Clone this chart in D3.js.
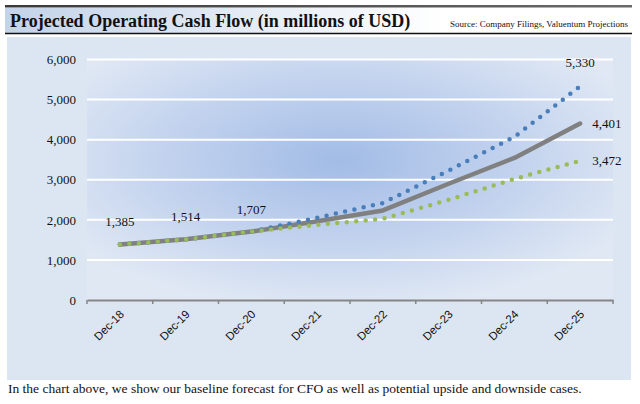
<!DOCTYPE html>
<html>
<head>
<meta charset="utf-8">
<script src="https://cdn.jsdelivr.net/npm/d3@7"></script>
<style>
  body { margin: 0; background: #fff; }
  svg { display: block; }
</style>
</head>
<body>
<script>
// data
var categories = ["Dec-18", "Dec-19", "Dec-20", "Dec-21", "Dec-22", "Dec-23", "Dec-24", "Dec-25"];
var baseCase = [1385, 1514, 1707, 1965, 2235, 2900, 3545, 4401];
var upsideCase = [1385, 1514, 1707, 2050, 2420, 3230, 4070, 5330];
var downsideCase = [1385, 1514, 1707, 1875, 2025, 2500, 3020, 3472];
var yTicks = [0, 1000, 2000, 3000, 4000, 5000, 6000];

var svg = d3.select("body")
            .append("svg")
            .attr("width", 640)
            .attr("height", 404);

var defs = svg.append("defs");

// title band gradient
var tg = defs.append("linearGradient").attr("id", "titleGrad");
tg.append("stop").attr("offset", "0%").attr("stop-color", "#c3d3e9");
tg.append("stop").attr("offset", "70%").attr("stop-color", "#ffffff");

var lg = defs.append("linearGradient").attr("id", "topLine");
lg.append("stop").attr("offset", "0%").attr("stop-color", "#3a3a3a");
lg.append("stop").attr("offset", "100%").attr("stop-color", "#6a6a6a");

// plot area gradient
var rg = defs.append("radialGradient")
             .attr("id", "plotGrad")
             .attr("cx", "48%").attr("cy", "42%").attr("r", "62%");
rg.append("stop").attr("offset", "0%").attr("stop-color", "#a2bce6");
rg.append("stop").attr("offset", "55%").attr("stop-color", "#c3d3ee");
rg.append("stop").attr("offset", "100%").attr("stop-color", "#e0e8f4");

// header
svg.append("rect").attr("x", 5).attr("y", 8).attr("width", 627).attr("height", 25)
   .attr("fill", "url(#titleGrad)");
svg.append("rect").attr("x", 5).attr("y", 5).attr("width", 627).attr("height", 2.5)
   .attr("fill", "url(#topLine)");
svg.append("line").attr("x1", 5).attr("x2", 632).attr("y1", 33.5).attr("y2", 33.5)
   .attr("stroke", "#111").attr("stroke-width", 1.5);

svg.append("text")
   .attr("x", 10).attr("y", 27)
   .style("font-family", "'Liberation Serif', 'Times New Roman', serif")
   .style("font-weight", "bold")
   .style("font-size", "18px")
   .attr("fill", "#111")
   .text("Projected Operating Cash Flow (in millions of USD)");

svg.append("text")
   .attr("x", 628).attr("y", 27)
   .attr("text-anchor", "end")
   .style("font-family", "'Liberation Serif', 'Times New Roman', serif")
   .style("font-size", "9px")
   .attr("fill", "#111")
   .text("Source: Company Filings, Valuentum Projections");

// chart panel
svg.append("rect").attr("x", 7).attr("y", 37).attr("width", 624).attr("height", 343)
   .attr("fill", "#dce6f2");

var x = d3.scaleBand().domain(categories).range([87, 613]).padding(0);
var y = d3.scaleLinear().domain([0, 6000]).range([300, 59.5]);

svg.append("rect")
   .attr("x", x.range()[0]).attr("y", y(6000))
   .attr("width", x.range()[1] - x.range()[0])
   .attr("height", y(0) - y(6000))
   .attr("fill", "url(#plotGrad)");

// gridlines
svg.append("g").selectAll("line")
   .data(yTicks.filter(function(d){ return d > 0; }))
   .enter().append("line")
   .attr("x1", x.range()[0]).attr("x2", x.range()[1])
   .attr("y1", function(d){ return y(d); })
   .attr("y2", function(d){ return y(d); })
   .attr("stroke", "#ffffff")
   .attr("stroke-width", 2);

// y axis labels
var yAxis = d3.axisLeft(y).tickValues(yTicks).tickSize(0).tickPadding(0)
              .tickFormat(d3.format(","));
var yg = svg.append("g").attr("transform", "translate(76,0)").call(yAxis);
yg.select(".domain").remove();
yg.selectAll("text")
  .style("font-family", "'Liberation Serif', 'Times New Roman', serif")
  .style("font-size", "13px")
  .attr("fill", "#111");

// x axis
var xAxis = d3.axisBottom(x).tickSize(0).tickFormat("");
var xg = svg.append("g").attr("transform", "translate(0," + y(0) + ")").call(xAxis);
xg.select(".domain").attr("stroke", "#868686").attr("stroke-width", 2);
xg.selectAll(".tick").remove();

var bounds = categories.map(function(c){ return x(c); }).concat([x.range()[1]]);
xg.selectAll(".bnd").data(bounds).enter().append("line")
  .attr("class", "bnd")
  .attr("x1", function(d){ return d; }).attr("x2", function(d){ return d; })
  .attr("y1", 0).attr("y2", 4)
  .attr("stroke", "#868686").attr("stroke-width", 1.5);

svg.append("g").selectAll("text")
   .data(categories)
   .enter().append("text")
   .attr("text-anchor", "end")
   .attr("transform", function(d){
       return "translate(" + (x(d) + x.bandwidth() / 2 + 5) + "," + (y(0) + 15) + ") rotate(-45)";
   })
   .style("font-family", "'Liberation Sans', Arial, sans-serif")
   .style("font-size", "11.5px")
   .attr("fill", "#111")
   .text(function(d){ return d; });

// lines
var line = d3.line()
             .x(function(d, i){ return x(categories[i]) + x.bandwidth() / 2; })
             .y(function(d){ return y(d); });

svg.append("path").datum(baseCase)
   .attr("d", line)
   .attr("fill", "none")
   .attr("stroke", "#808080")
   .attr("stroke-width", 4.5)
   .attr("stroke-linecap", "round")
   .attr("stroke-linejoin", "round");

svg.append("path").datum(upsideCase)
   .attr("d", line)
   .attr("fill", "none")
   .attr("stroke", "#4a7ebb")
   .attr("stroke-width", 4.5)
   .attr("stroke-linecap", "round")
   .attr("stroke-dasharray", "0 9.5");

svg.append("path").datum(downsideCase)
   .attr("d", line)
   .attr("fill", "none")
   .attr("stroke", "#9bbb59")
   .attr("stroke-width", 4.5)
   .attr("stroke-linecap", "round")
   .attr("stroke-dasharray", "0 9.5");

// data labels
var labelFont = "'Liberation Serif', 'Times New Roman', serif";
var cx = function(i){ return x(categories[i]) + x.bandwidth() / 2; };
var last = categories.length - 1;

svg.append("g").selectAll("text")
   .data([0, 1, 2])
   .enter().append("text")
   .attr("x", function(i){ return cx(i); })
   .attr("y", function(i){ return y(baseCase[i]) - 18; })
   .attr("text-anchor", "middle")
   .style("font-family", labelFont)
   .style("font-size", "13px")
   .attr("fill", "#111")
   .text(function(i){ return d3.format(",")(baseCase[i]); });

var endLabels = [
    { v: upsideCase[last], dx: 0, dy: -19, anchor: "middle" },
    { v: baseCase[last], dx: 12, dy: 4.5, anchor: "start" },
    { v: downsideCase[last], dx: 12, dy: 4.5, anchor: "start" }
];
svg.append("g").selectAll("text")
   .data(endLabels)
   .enter().append("text")
   .attr("x", function(d){ return cx(last) + d.dx; })
   .attr("y", function(d){ return y(d.v) + d.dy; })
   .attr("text-anchor", function(d){ return d.anchor; })
   .style("font-family", labelFont)
   .style("font-size", "13px")
   .attr("fill", "#111")
   .text(function(d){ return d3.format(",")(d.v); });

// caption
svg.append("text")
   .attr("x", 8).attr("y", 393)
   .style("font-family", "'Liberation Serif', 'Times New Roman', serif")
   .style("font-size", "13.5px")
   .attr("fill", "#111")
   .text("In the chart above, we show our baseline forecast for CFO as well as potential upside and downside cases.");
</script>
</body>
</html>
